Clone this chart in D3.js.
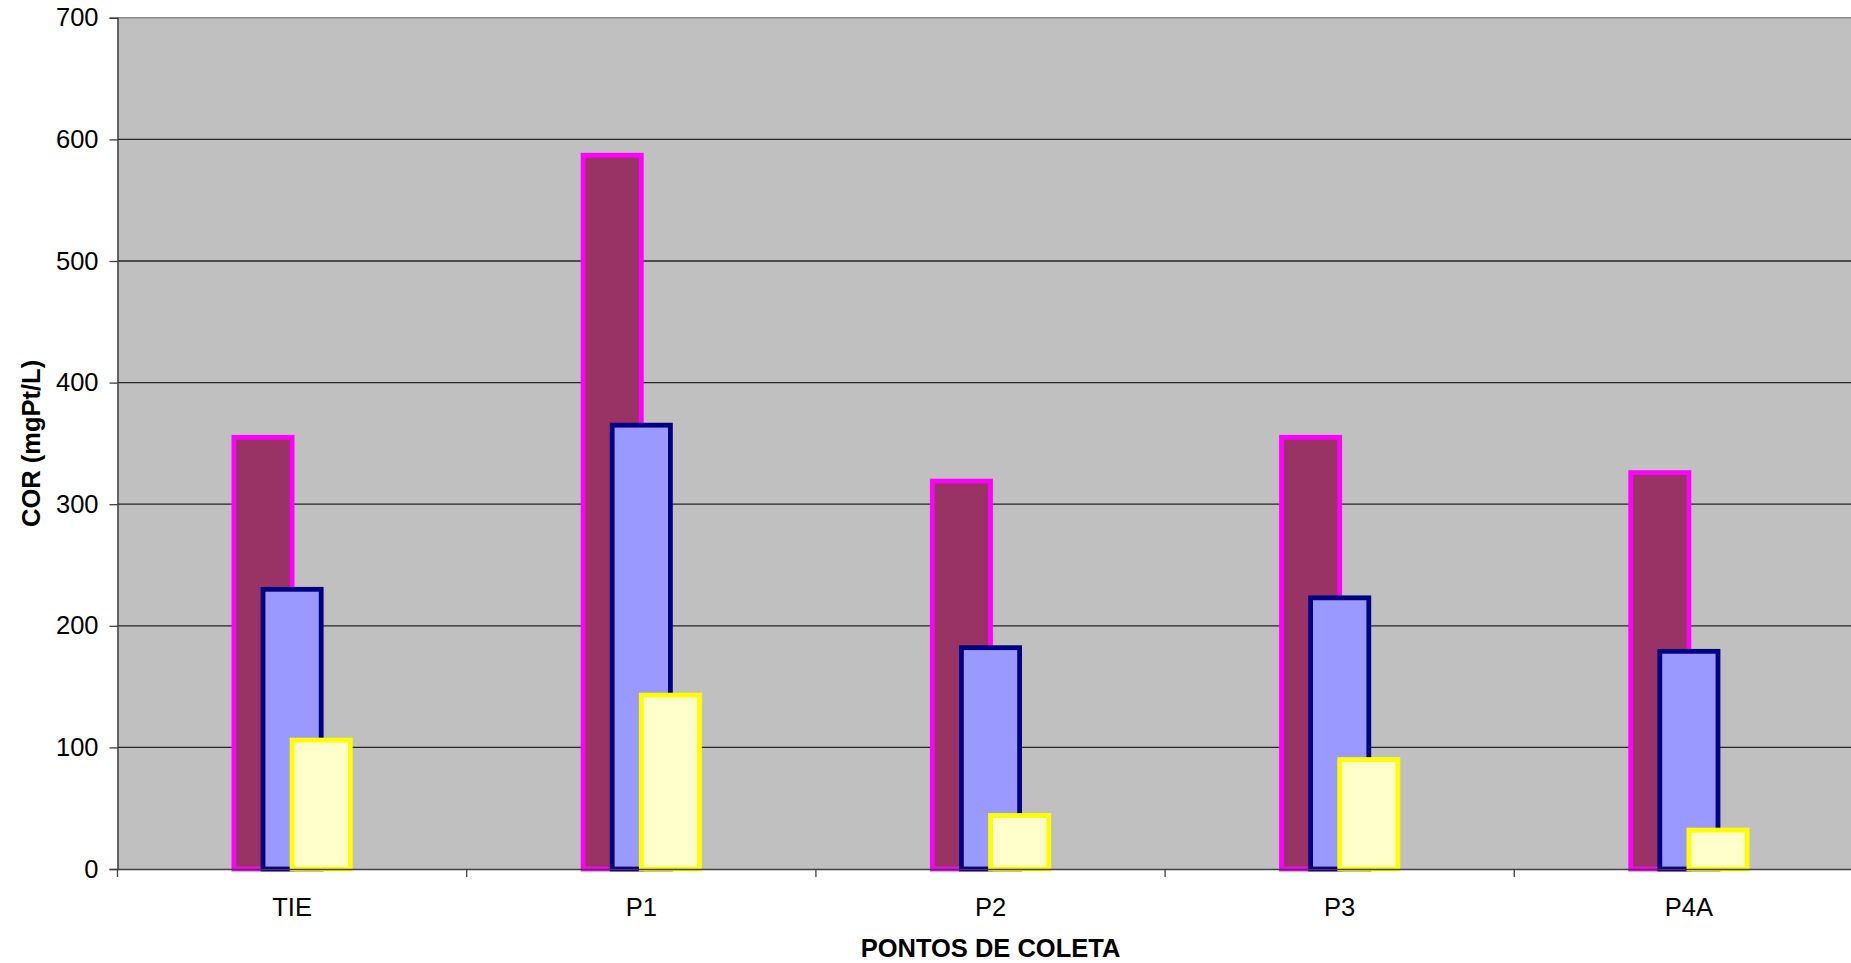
<!DOCTYPE html>
<html>
<head>
<meta charset="utf-8">
<script src="https://cdn.jsdelivr.net/npm/d3@7"></script>
<style>
  html, body { margin: 0; padding: 0; background: #ffffff; overflow: hidden; }
  svg { display: block; font-family: Arial, "Liberation Sans", sans-serif; }
</style>
</head>
<body>
<svg id="chart" width="1851" height="963"></svg>
<script>
// Sampling points along the system
const categories = ["TIE", "P1", "P2", "P3", "P4A"];
// Three sampling series (colour, mgPt/L)
const seriesNames = ["Série 1", "Série 2", "Série 3"];
const serie1 = [355, 587, 319, 355, 326];
const serie2 = [230, 365, 182, 223, 179];
const serie3 = [106, 143, 44, 90, 32];
const yTicks = [0, 100, 200, 300, 400, 500, 600, 700];

const seriesValues = [serie1, serie2, serie3];
const fills = ["#993366", "#9999FF", "#FFFFCC"];
const strokes = ["#FF00FF", "#000080", "#FFFF00"];

const FONT = "Arial, 'Liberation Sans', sans-serif";
const svg = d3.select("#chart");
const plot = { left: 117.5, right: 1863.5, top: 17.8, bottom: 869 };

const x = d3.scaleBand().domain(categories).range([plot.left, plot.right]).paddingInner(0).paddingOuter(0);
const y = d3.scaleLinear().domain([0, 700]).range([plot.bottom, plot.top]);

// Bars overlap by half their width inside each category
const barW = x.bandwidth() / 6;
const offset = d3.scalePoint().domain(seriesNames).range([-barW / 2, barW / 2]);

// Plot background
svg.append("rect")
  .attr("x", plot.left).attr("y", plot.top)
  .attr("width", plot.right - plot.left).attr("height", plot.bottom - plot.top)
  .attr("fill", "#C0C0C0");

// Horizontal gridlines
svg.append("g")
  .selectAll("line")
  .data(yTicks.filter(t => t > 0 && t < 700))
  .join("line")
  .attr("x1", plot.left).attr("x2", plot.right)
  .attr("y1", d => y(d)).attr("y2", d => y(d))
  .attr("stroke", "#262626").attr("stroke-width", 1.3);

// Top border of the plot area
svg.append("line")
  .attr("x1", plot.left).attr("x2", plot.right)
  .attr("y1", y(700)).attr("y2", y(700))
  .attr("stroke", "#8a8a8a").attr("stroke-width", 1.6);

// Bars, one group per series
const rows = seriesNames.map((name, i) => categories.map((c, j) => ({ name, cat: c, value: seriesValues[i][j], i })));
svg.append("g")
  .selectAll("g")
  .data(rows)
  .join("g")
  .attr("fill", (d, i) => fills[i])
  .attr("stroke", (d, i) => strokes[i])
  .attr("stroke-width", 4.8)
  .selectAll("rect")
  .data(d => d)
  .join("rect")
  .attr("x", d => x(d.cat) + x.bandwidth() / 2 + offset(d.name) - barW / 2)
  .attr("y", d => y(d.value))
  .attr("width", barW)
  .attr("height", d => y(0) - y(d.value));

// Y axis
const yAxis = svg.append("g")
  .attr("transform", `translate(${plot.left},0)`)
  .call(d3.axisLeft(y).tickValues(yTicks).tickSize(8).tickPadding(11).tickFormat(d3.format("d")));
yAxis.select(".domain").attr("stroke", "#404040").attr("stroke-width", 1.5);
yAxis.selectAll(".tick line").attr("stroke", "#404040").attr("stroke-width", 1.3);
yAxis.selectAll(".tick text").attr("font-size", 25.5).attr("fill", "#000").attr("font-family", FONT);

// X axis: ticks sit on category boundaries
const xAxis = svg.append("g")
  .attr("transform", `translate(0,${plot.bottom})`)
  .call(d3.axisBottom(x).tickSize(0).tickPadding(29));
xAxis.select(".domain").attr("stroke", "#404040").attr("stroke-width", 1.5);
xAxis.selectAll(".tick text").attr("font-size", 25.5).attr("fill", "#000").attr("font-family", FONT);
xAxis.append("g")
  .selectAll("line")
  .data(categories.concat([null]))
  .join("line")
  .attr("x1", (d, i) => plot.left + i * x.step())
  .attr("x2", (d, i) => plot.left + i * x.step())
  .attr("y1", 0).attr("y2", 8)
  .attr("stroke", "#404040").attr("stroke-width", 1.3);

// Axis titles
svg.append("text")
  .attr("x", (plot.left + plot.right) / 2).attr("y", 957)
  .attr("text-anchor", "middle")
  .attr("font-size", 25.5).attr("font-weight", "bold")
  .text("PONTOS DE COLETA");

svg.append("text")
  .attr("transform", `translate(40,${(plot.top + plot.bottom) / 2}) rotate(-90)`)
  .attr("text-anchor", "middle")
  .attr("font-size", 25.5).attr("font-weight", "bold")
  .text("COR (mgPt/L)");
</script>
</body>
</html>
